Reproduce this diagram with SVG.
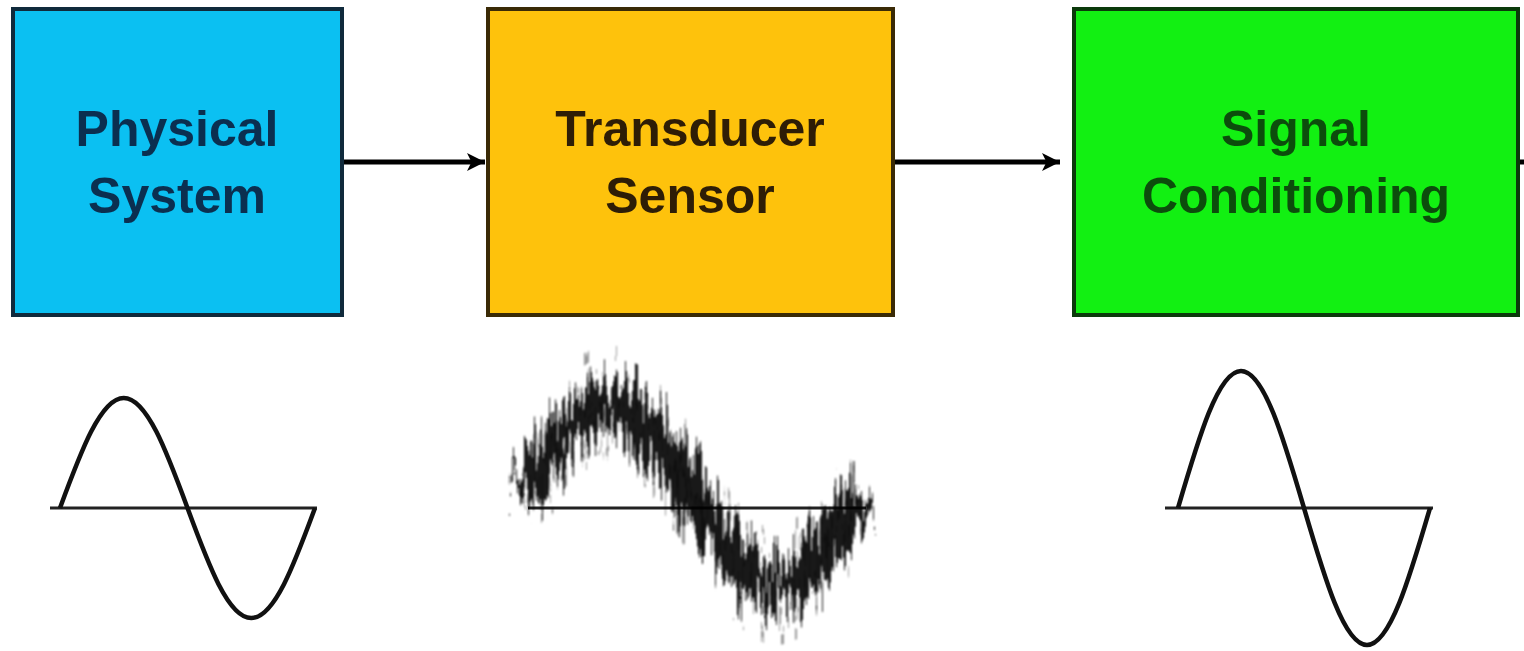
<svg xmlns="http://www.w3.org/2000/svg" width="1524" height="651" viewBox="0 0 1524 651">
<style>
.box{stroke-width:4}
.lbl{font-family:"Liberation Sans",Arial,sans-serif;font-weight:bold;font-size:50px;text-anchor:middle}
.conn{stroke:#000;stroke-width:5;fill:none}
.wave{stroke:#111;stroke-width:4.5;fill:none;stroke-linejoin:round}
.axis{stroke:#222;stroke-width:3;fill:none}
</style>
<defs>
<marker id="ah" viewBox="0 0 10 10" refX="10" refY="5" markerWidth="3.6" markerHeight="3.6" orient="auto" markerUnits="strokeWidth">
<path d="M0,0 L10,5 L0,10 L2.5,5 Z" fill="#000"/>
</marker>
<filter id="noise1" x="-10%" y="-40%" width="120%" height="180%">
<feTurbulence type="fractalNoise" baseFrequency="0.35 0.012" numOctaves="2" seed="3" result="t"/>
<feColorMatrix in="t" type="matrix" values="0 0 0 0 0.5  0 2 0 0 -0.5  0 0 0 0 0.5  0 0 0 0 1" result="m"/>
<feDisplacementMap in="SourceGraphic" in2="m" scale="60" xChannelSelector="R" yChannelSelector="G" result="d"/>
<feGaussianBlur in="d" stdDeviation="0.9"/>
</filter>
<filter id="noise2" x="-10%" y="-50%" width="120%" height="200%">
<feTurbulence type="fractalNoise" baseFrequency="0.25 0.01" numOctaves="3" seed="11" result="t"/>
<feColorMatrix in="t" type="matrix" values="0 0 0 0 0.5  0 2.2 0 0 -0.6  0 0 0 0 0.5  0 0 0 0 1" result="m"/>
<feDisplacementMap in="SourceGraphic" in2="m" scale="110" xChannelSelector="R" yChannelSelector="G" result="d"/>
<feGaussianBlur in="d" stdDeviation="1"/>
</filter>
</defs>
<rect width="1524" height="651" fill="#fff"/>

<g id="node-physical">
<rect class="box" x="13" y="9" width="329" height="306" fill="#0bc0f2" stroke="#102a3c"/>
<text class="lbl" x="177" y="146" fill="#0b2f50">Physical</text>
<text class="lbl" x="177" y="213" fill="#0b2f50">System</text>
</g>
<g id="node-transducer">
<rect class="box" x="488" y="9" width="405" height="306" fill="#fec20c" stroke="#3a2a06"/>
<text class="lbl" x="690" y="146" fill="#2e1d06">Transducer</text>
<text class="lbl" x="690" y="213" fill="#2e1d06">Sensor</text>
</g>
<g id="node-conditioning">
<rect class="box" x="1074" y="9" width="444" height="306" fill="#12f012" stroke="#0b3a0b"/>
<text class="lbl" x="1296" y="146" fill="#0c4d0c">Signal</text>
<text class="lbl" x="1296" y="213" fill="#0c4d0c">Conditioning</text>
</g>

<g id="connectors">
<line class="conn" x1="344" y1="162" x2="485" y2="162" marker-end="url(#ah)"/>
<line class="conn" x1="895" y1="162" x2="1060" y2="162" marker-end="url(#ah)"/>
<line class="conn" x1="1520" y1="162" x2="1524" y2="162"/>
</g>

<g id="wave-physical">
<line class="axis" x1="50" y1="508" x2="317" y2="508"/>
<path class="wave" d="M60,508 C80.8,451.6 100.7,398 123.75,398 C146.8,398 166.7,451.6 187.5,508 C208.3,564.4 228.2,618 251.25,618 C274.3,618 294.2,564.4 315,508"/>
</g>

<g id="wave-transducer">
<line class="axis" x1="528" y1="508" x2="866" y2="508"/>
<path d="M525,495 C552.3,448.8 578.4,405 608.75,405 C639.1,405 665.2,448.8 692.5,495 C719.8,541.2 745.9,585 776.25,585 C806.6,585 832.7,541.2 860,495" stroke="#000" stroke-opacity="0.4" stroke-width="10" fill="none" filter="url(#noise2)"/>
<path d="M525,495 C552.3,448.8 578.4,405 608.75,405 C639.1,405 665.2,448.8 692.5,495 C719.8,541.2 745.9,585 776.25,585 C806.6,585 832.7,541.2 860,495" stroke="#000" stroke-opacity="0.9" stroke-width="38" fill="none" filter="url(#noise1)"/>
</g>

<g id="wave-conditioning">
<line class="axis" x1="1165" y1="508" x2="1433" y2="508"/>
<path class="wave" d="M1178,508 C1198.6,437.7 1218.2,371 1241,371 C1263.8,371 1283.4,437.7 1304,508 C1324.6,578.3 1344.2,645 1367,645 C1389.8,645 1409.4,578.3 1430,508"/>
</g>
</svg>
